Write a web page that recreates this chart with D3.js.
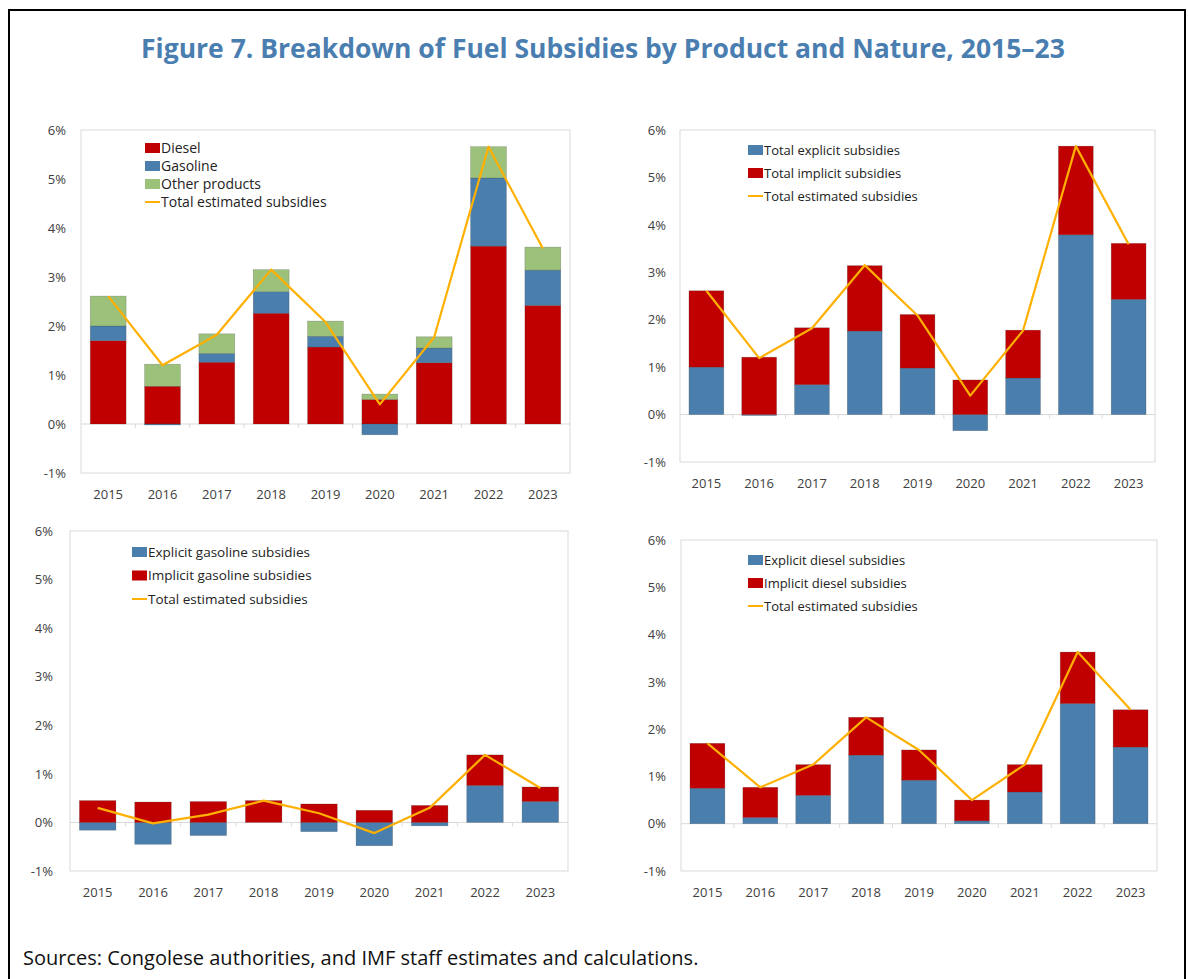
<!DOCTYPE html>
<html>
<head>
<meta charset="utf-8">
<script src="https://cdn.jsdelivr.net/npm/d3@7"></script>
<style>
  html, body { margin: 0; padding: 0; background: #fff; }
  svg { display: block; }
  text { font-family: "Open Sans", "Noto Sans", sans-serif; }
</style>
</head>
<body>
<svg id="chart" width="1188" height="979"></svg>
<script>
// ---------- DATA ----------
const years = ["2015","2016","2017","2018","2019","2020","2021","2022","2023"];
const yTicks = [-1, 0, 1, 2, 3, 4, 5, 6];

// Panel 1: by product (% of GDP)
const dieselTotal   = [1.70, 0.77, 1.26, 2.26, 1.57, 0.50, 1.25, 3.63, 2.42];
const gasolineTotal = [0.30, -0.02, 0.18, 0.44, 0.22, -0.22, 0.30, 1.39, 0.72];
const otherProducts = [0.61, 0.45, 0.40, 0.45, 0.31, 0.11, 0.23, 0.64, 0.47];
const totalP1       = [2.61, 1.20, 1.82, 3.15, 2.08, 0.40, 1.77, 5.66, 3.58];

// Panel 2: by nature
const totalExplicit = [1.00, -0.02, 0.63, 1.76, 0.98, -0.34, 0.77, 3.79, 2.43];
const totalImplicit = [1.61, 1.21, 1.20, 1.38, 1.13, 0.73, 1.01, 1.87, 1.18];
const totalP2       = [2.61, 1.19, 1.82, 3.15, 2.09, 0.40, 1.77, 5.66, 3.59];

// Panel 3: gasoline
const explicitGasoline = [-0.16, -0.45, -0.27, 0.00, -0.19, -0.48, -0.07, 0.76, 0.43];
const implicitGasoline = [0.45, 0.42, 0.43, 0.45, 0.38, 0.25, 0.35, 0.63, 0.30];
const totalP3          = [0.30, -0.02, 0.16, 0.45, 0.19, -0.22, 0.30, 1.39, 0.71];

// Panel 4: diesel
const explicitDiesel = [0.75, 0.13, 0.60, 1.45, 0.92, 0.06, 0.67, 2.54, 1.62];
const implicitDiesel = [0.95, 0.64, 0.65, 0.80, 0.64, 0.44, 0.58, 1.09, 0.79];
const totalP4        = [1.70, 0.77, 1.25, 2.25, 1.56, 0.50, 1.25, 3.63, 2.41];

// ---------- STYLE ----------
const RED = "#C00000", BLUE = "#4A7EAD", GREEN = "#9BC17A", ORANGE = "#FFB000";

const svg = d3.select("#chart");

// outer frame
svg.append("rect").attr("x", 9).attr("y", 10).attr("width", 1176).attr("height", 1000)
  .attr("fill", "none").attr("stroke", "#000").attr("stroke-width", 2);

svg.append("text")
  .attr("x", 603).attr("y", 58)
  .attr("text-anchor", "middle")
  .attr("font-size", 26.5).attr("font-weight", 700)
  .attr("fill", "#4A7EB0")
  .text("Figure 7. Breakdown of Fuel Subsidies by Product and Nature, 2015–23");

svg.append("text")
  .attr("x", 23).attr("y", 965)
  .attr("font-size", 20)
  .attr("fill", "#111")
  .text("Sources: Congolese authorities, and IMF staff estimates and calculations.");

function drawPanel(cfg) {
  const g = svg.append("g");
  const x = d3.scaleBand().domain(years).range([cfg.left, cfg.right]).paddingInner(0.34).paddingOuter(0.17);
  const y = d3.scaleLinear().domain([-1, 6]).range([cfg.bottom, cfg.top]);

  // plot frame
  g.append("rect").attr("x", cfg.left).attr("y", cfg.top)
    .attr("width", cfg.right - cfg.left).attr("height", cfg.bottom - cfg.top)
    .attr("fill", "none").attr("stroke", "#D9D9D9").attr("stroke-width", 1);

  // y axis labels
  const yAxis = d3.axisLeft(y).tickValues(yTicks).tickSize(0).tickPadding(0)
    .tickFormat(d => d + "%");
  const ya = g.append("g").attr("transform", `translate(${cfg.labelX},0)`).call(yAxis);
  ya.select(".domain").remove();
  ya.selectAll("text").attr("font-size", 13).attr("fill", "#404040")
    .attr("font-family", '"Open Sans", sans-serif');

  // x axis labels
  const xAxis = d3.axisBottom(x).tickSize(0).tickPadding(0);
  const xa = g.append("g").attr("transform", `translate(0,${cfg.xLabelY})`).call(xAxis);
  xa.select(".domain").remove();
  xa.selectAll("text").attr("font-size", 13).attr("fill", "#404040").attr("dy", "0.35em")
    .attr("font-family", '"Open Sans", sans-serif');

  // zero line with small ticks at band boundaries
  g.append("line").attr("x1", cfg.left).attr("x2", cfg.right)
    .attr("y1", y(0)).attr("y2", y(0)).attr("stroke", "#D9D9D9").attr("stroke-width", 1);
  const step = x.step();
  const x0 = x(years[0]) - step * x.paddingInner() / 2;
  g.selectAll(".ztick").data(d3.range(1, years.length)).join("line")
    .attr("x1", i => x0 + i * step).attr("x2", i => x0 + i * step)
    .attr("y1", y(0)).attr("y2", y(0) + 4)
    .attr("stroke", "#D9D9D9");

  // stacked bars
  const rows = years.map((yr, i) => {
    const r = { year: yr };
    cfg.series.forEach(s => r[s.key] = s.values[i]);
    return r;
  });
  const stack = d3.stack().keys(cfg.series.map(s => s.key)).offset(d3.stackOffsetDiverging);
  const layers = stack(rows);
  layers.forEach((layer, li) => {
    g.append("g").selectAll("rect").data(layer).join("rect")
      .attr("x", d => x(d.data.year))
      .attr("width", x.bandwidth())
      .attr("y", d => y(Math.max(d[0], d[1])))
      .attr("height", d => Math.abs(y(d[0]) - y(d[1])))
      .attr("fill", cfg.series[li].color)
      .attr("stroke", "rgba(60,60,60,0.35)").attr("stroke-width", 0.6);
  });

  // total line
  const line = d3.line().x((d, i) => x(years[i]) + x.bandwidth() / 2).y(d => y(d));
  g.append("path").datum(cfg.total).attr("d", line)
    .attr("fill", "none").attr("stroke", ORANGE).attr("stroke-width", 2.2)
    .attr("stroke-linejoin", "round");

  // legend
  const items = cfg.series.map(s => ({ label: s.label, color: s.color, type: "rect" }))
    .concat([{ label: "Total estimated subsidies", color: ORANGE, type: "line" }]);
  items.forEach((it, i) => {
    const cy = cfg.legY + i * cfg.legStep;
    if (it.type === "rect") {
      g.append("rect").attr("x", cfg.legX).attr("y", cy - 5).attr("width", 15).attr("height", 10)
        .attr("fill", it.color);
    } else {
      g.append("line").attr("x1", cfg.legX).attr("x2", cfg.legX + 15)
        .attr("y1", cy).attr("y2", cy).attr("stroke", it.color).attr("stroke-width", 2);
    }
    g.append("text").attr("x", cfg.legX + 16).attr("y", cy).attr("dy", "0.35em")
      .attr("font-size", cfg.legFont).attr("fill", "#222").text(it.label);
  });
}

drawPanel({
  left: 81, right: 570, top: 130, bottom: 473, labelX: 66, xLabelY: 494,
  legX: 145, legY: 148, legStep: 18, legFont: 14,
  series: [
    { key: "diesel", label: "Diesel", values: dieselTotal, color: RED },
    { key: "gasoline", label: "Gasoline", values: gasolineTotal, color: BLUE },
    { key: "other", label: "Other products", values: otherProducts, color: GREEN }
  ],
  total: totalP1
});

drawPanel({
  left: 680, right: 1155, top: 130, bottom: 462, labelX: 666, xLabelY: 483,
  legX: 748, legY: 150, legStep: 23, legFont: 13,
  series: [
    { key: "explicit", label: "Total explicit subsidies", values: totalExplicit, color: BLUE },
    { key: "implicit", label: "Total implicit subsidies", values: totalImplicit, color: RED }
  ],
  total: totalP2
});

drawPanel({
  left: 70, right: 568, top: 531, bottom: 871, labelX: 53, xLabelY: 892,
  legX: 132, legY: 552, legStep: 23.5, legFont: 13.5,
  series: [
    { key: "explicit", label: "Explicit gasoline subsidies", values: explicitGasoline, color: BLUE },
    { key: "implicit", label: "Implicit gasoline subsidies", values: implicitGasoline, color: RED }
  ],
  total: totalP3
});

drawPanel({
  left: 681, right: 1157, top: 540, bottom: 871, labelX: 666, xLabelY: 892,
  legX: 748, legY: 560, legStep: 23, legFont: 13,
  series: [
    { key: "explicit", label: "Explicit diesel subsidies", values: explicitDiesel, color: BLUE },
    { key: "implicit", label: "Implicit diesel subsidies", values: implicitDiesel, color: RED }
  ],
  total: totalP4
});
</script>
</body>
</html>
